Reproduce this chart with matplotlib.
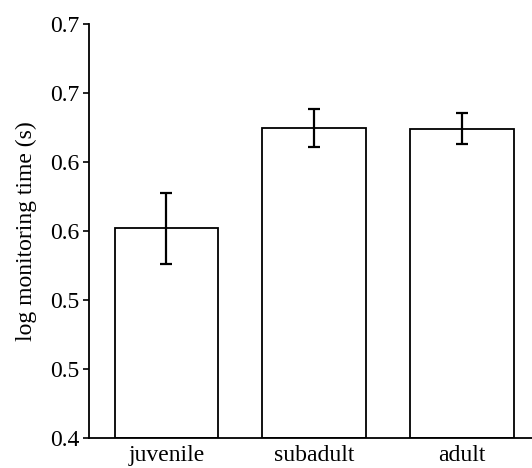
import matplotlib
matplotlib.use("Agg")
import matplotlib.pyplot as plt

categories = ["juvenile", "subadult", "adult"]
means = [0.5522, 0.6246, 0.6239]
err_upper = [0.0253, 0.0138, 0.0116]
err_lower = [0.0262, 0.0137, 0.0109]
ytick_values = [0.40, 0.45, 0.50, 0.55, 0.60, 0.65, 0.70]
ytick_labels = ["0.4", "0.5", "0.5", "0.6", "0.6", "0.7", "0.7"]

plt.rcParams["font.family"] = ["Liberation Serif", "DejaVu Serif"]

fig = plt.figure(figsize=(5.32, 4.68), dpi=100)
ax = fig.add_axes([89/532, 30/468, 1 - 89/532, (438-24)/468])

x = list(range(len(categories)))
ax.bar(x, [m - 0.4 for m in means], bottom=0.4, width=0.7, color="white",
       edgecolor="black", linewidth=1.3, zorder=2)
ax.errorbar(x, means, yerr=[err_lower, err_upper], fmt="none", ecolor="black",
            elinewidth=1.6, capsize=4.5, capthick=1.6, zorder=3)

ax.set_ylim(0.4, 0.7)
ax.set_xlim(-0.524, 2.475)
ax.set_yticks(ytick_values)
ax.set_yticklabels(ytick_labels, fontsize=17)
ax.set_xticks(x)
ax.set_xticklabels(categories, fontsize=17)
ax.tick_params(axis="x", length=0, pad=5)
ax.tick_params(axis="y", length=4, width=1.2, direction="out", pad=3)
for s in ["top", "right"]:
    ax.spines[s].set_visible(False)
for s in ["left", "bottom"]:
    ax.spines[s].set_linewidth(1.3)
ax.set_ylabel("log monitoring time (s)", fontsize=17, labelpad=9)

fig.savefig("out.png", dpi=100)
